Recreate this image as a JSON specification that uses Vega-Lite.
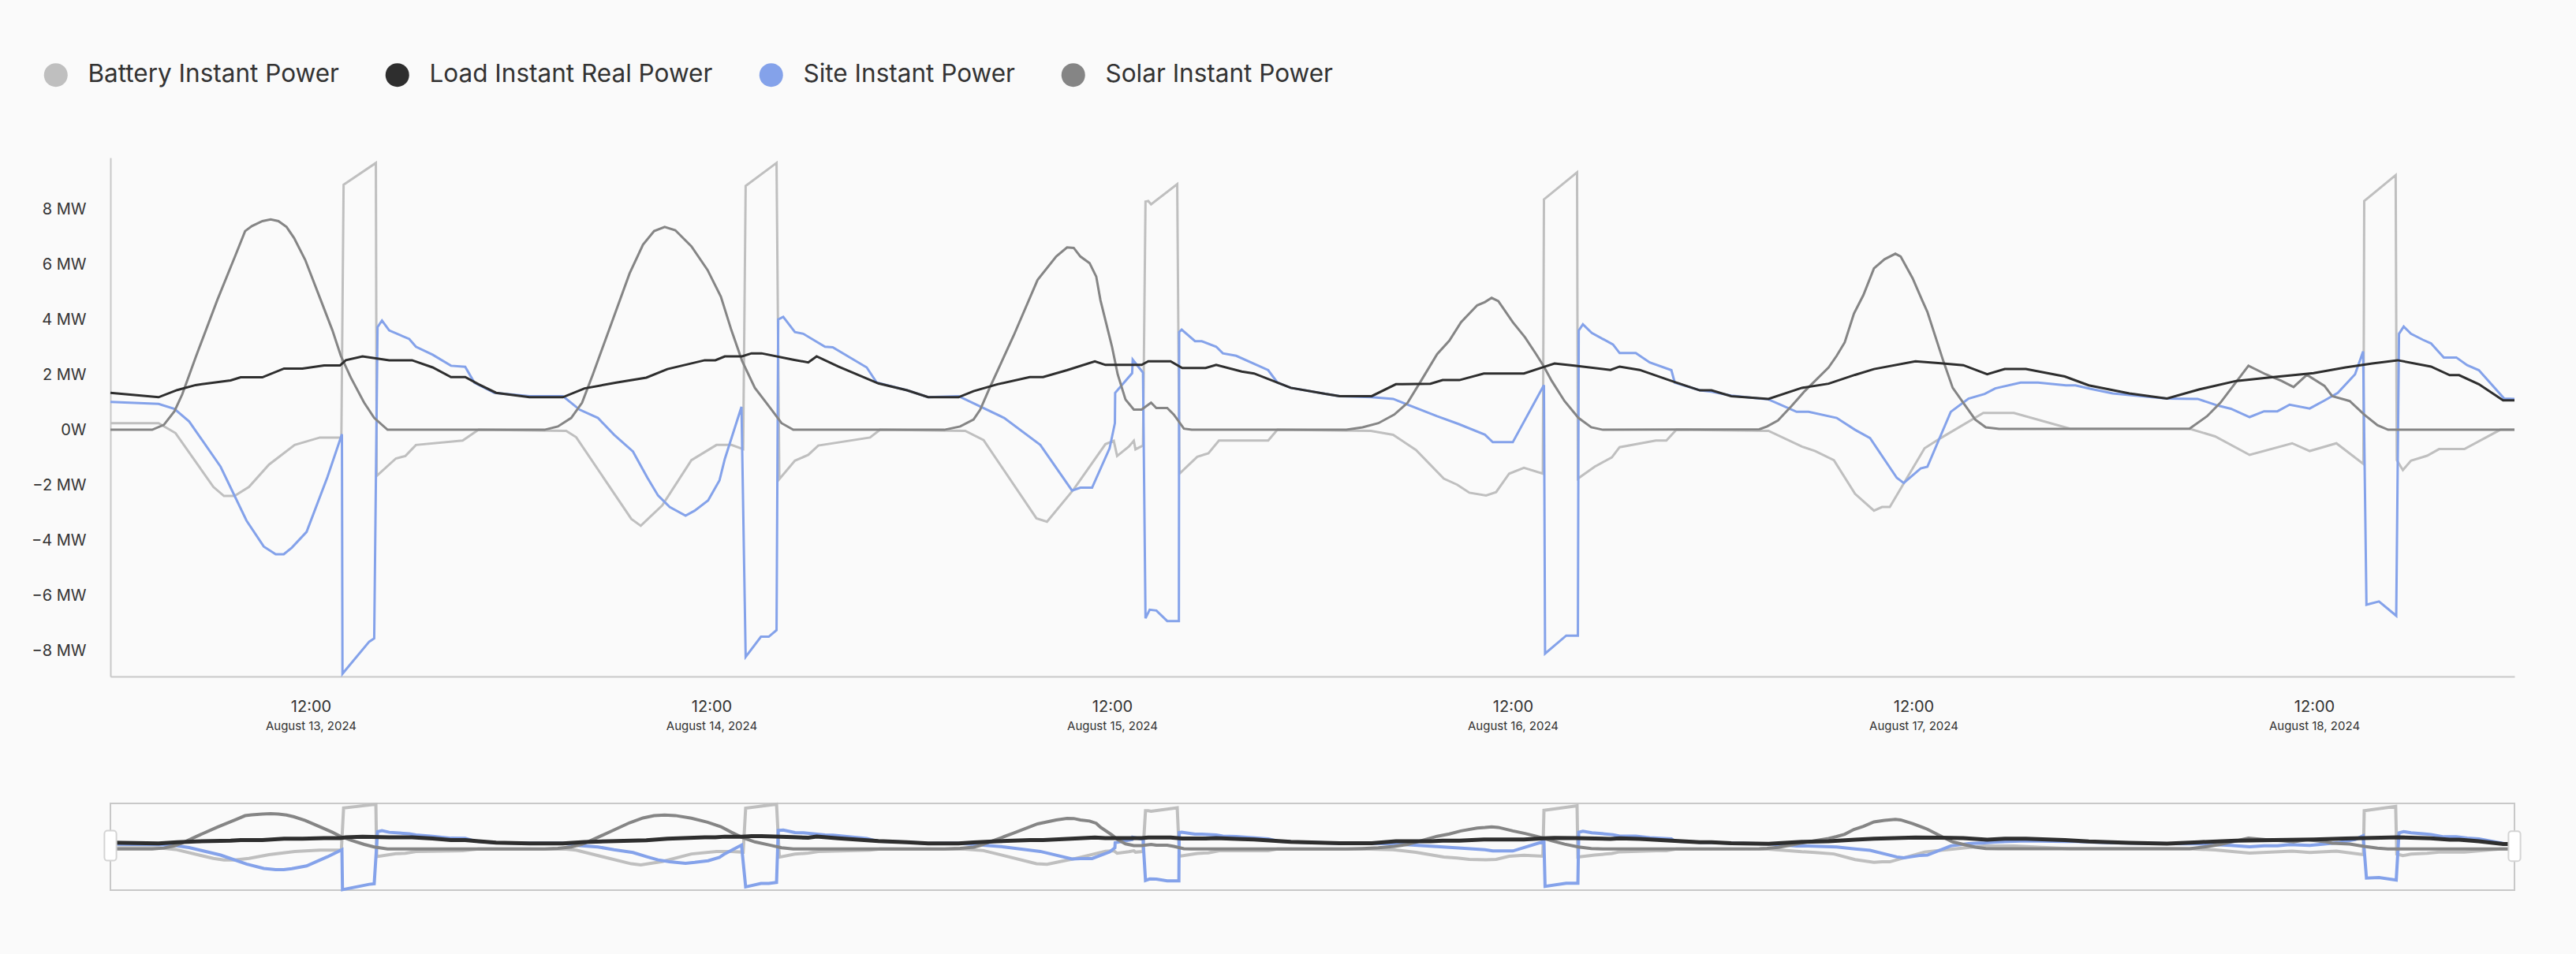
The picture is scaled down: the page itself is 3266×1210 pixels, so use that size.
{
"$schema": "https://vega.github.io/schema/vega-lite/v6.json",
"background": "#fafafa",
"padding": {"left": 39, "top": 79, "right": 77, "bottom": 87},
"spacing": 83,
"config": {
  "view": {"stroke": null},
  "font": "Inter",
  "axis": {"labelFont": "Inter", "labelColor": "#333333", "grid": false, "ticks": false, "tickSize": 0, "domainColor": "#c8c8c8", "domainWidth": 2, "title": null}
},
"datasets": {
"battery": [{"t":"2024-08-13T00:00","v":0.24},{"t":"2024-08-13T02:53","v":0.24},{"t":"2024-08-13T03:54","v":-0.12},{"t":"2024-08-13T06:10","v":-2.07},{"t":"2024-08-13T06:48","v":-2.4},{"t":"2024-08-13T07:26","v":-2.4},{"t":"2024-08-13T08:18","v":-2.07},{"t":"2024-08-13T09:30","v":-1.26},{"t":"2024-08-13T11:02","v":-0.55},{"t":"2024-08-13T12:33","v":-0.28},{"t":"2024-08-13T13:50","v":-0.28},{"t":"2024-08-13T13:58","v":8.88},{"t":"2024-08-13T15:54","v":9.67},{"t":"2024-08-13T15:57","v":-1.67},{"t":"2024-08-13T17:06","v":-1.04},{"t":"2024-08-13T17:40","v":-0.95},{"t":"2024-08-13T18:18","v":-0.55},{"t":"2024-08-13T21:06","v":-0.39},{"t":"2024-08-13T22:03","v":0},
{"t":"2024-08-14T03:18","v":-0.04},{"t":"2024-08-14T03:54","v":-0.27},{"t":"2024-08-14T07:12","v":-3.23},{"t":"2024-08-14T07:46","v":-3.48},{"t":"2024-08-14T09:03","v":-2.74},{"t":"2024-08-14T10:48","v":-1.1},{"t":"2024-08-14T12:18","v":-0.55},{"t":"2024-08-14T13:12","v":-0.55},{"t":"2024-08-14T13:54","v":-0.7},{"t":"2024-08-14T14:03","v":8.84},{"t":"2024-08-14T15:54","v":9.67},{"t":"2024-08-14T16:04","v":-1.79},{"t":"2024-08-14T17:00","v":-1.12},{"t":"2024-08-14T17:48","v":-0.91},{"t":"2024-08-14T18:24","v":-0.57},{"t":"2024-08-14T21:30","v":-0.28},{"t":"2024-08-14T22:06","v":0},
{"t":"2024-08-15T03:12","v":-0.04},{"t":"2024-08-15T04:18","v":-0.37},{"t":"2024-08-15T07:28","v":-3.21},{"t":"2024-08-15T08:06","v":-3.33},{"t":"2024-08-15T09:42","v":-2.16},{"t":"2024-08-15T11:36","v":-0.52},{"t":"2024-08-15T12:06","v":-0.4},{"t":"2024-08-15T12:18","v":-0.95},{"t":"2024-08-15T13:00","v":-0.61},{"t":"2024-08-15T13:18","v":-0.4},{"t":"2024-08-15T13:24","v":-0.71},{"t":"2024-08-15T13:51","v":-0.57},{"t":"2024-08-15T14:00","v":8.27},{"t":"2024-08-15T14:10","v":8.29},{"t":"2024-08-15T14:20","v":8.17},{"t":"2024-08-15T15:54","v":8.9},{"t":"2024-08-15T16:02","v":-1.59},{"t":"2024-08-15T17:06","v":-0.98},{"t":"2024-08-15T17:46","v":-0.85},{"t":"2024-08-15T18:24","v":-0.39},{"t":"2024-08-15T21:21","v":-0.39},{"t":"2024-08-15T21:54","v":0},
{"t":"2024-08-16T03:30","v":-0.04},{"t":"2024-08-16T04:50","v":-0.18},{"t":"2024-08-16T06:12","v":-0.73},{"t":"2024-08-16T07:52","v":-1.77},{"t":"2024-08-16T08:40","v":-1.99},{"t":"2024-08-16T09:24","v":-2.28},{"t":"2024-08-16T10:24","v":-2.38},{"t":"2024-08-16T11:00","v":-2.26},{"t":"2024-08-16T11:47","v":-1.59},{"t":"2024-08-16T12:40","v":-1.38},{"t":"2024-08-16T13:48","v":-1.59},{"t":"2024-08-16T13:52","v":8.35},{"t":"2024-08-16T15:51","v":9.33},{"t":"2024-08-16T15:54","v":-1.77},{"t":"2024-08-16T16:54","v":-1.34},{"t":"2024-08-16T17:56","v":-1.0},{"t":"2024-08-16T18:24","v":-0.63},{"t":"2024-08-16T20:34","v":-0.39},{"t":"2024-08-16T21:12","v":-0.39},{"t":"2024-08-16T21:48","v":0},
{"t":"2024-08-17T03:19","v":-0.04},{"t":"2024-08-17T05:19","v":-0.61},{"t":"2024-08-17T06:07","v":-0.77},{"t":"2024-08-17T07:14","v":-1.1},{"t":"2024-08-17T08:30","v":-2.32},{"t":"2024-08-17T09:38","v":-2.93},{"t":"2024-08-17T10:07","v":-2.8},{"t":"2024-08-17T10:35","v":-2.8},{"t":"2024-08-17T12:40","v":-0.67},{"t":"2024-08-17T13:38","v":-0.3},{"t":"2024-08-17T16:11","v":0.61},{"t":"2024-08-17T18:01","v":0.61},{"t":"2024-08-17T21:23","v":0.04},
{"t":"2024-08-18T04:32","v":0.04},{"t":"2024-08-18T06:04","v":-0.24},{"t":"2024-08-18T08:08","v":-0.91},{"t":"2024-08-18T10:41","v":-0.49},{"t":"2024-08-18T11:44","v":-0.77},{"t":"2024-08-18T13:20","v":-0.49},{"t":"2024-08-18T14:57","v":-1.24},{"t":"2024-08-18T15:00","v":8.29},{"t":"2024-08-18T16:53","v":9.23},{"t":"2024-08-18T16:57","v":-1.1},{"t":"2024-08-18T17:19","v":-1.46},{"t":"2024-08-18T17:48","v":-1.12},{"t":"2024-08-18T18:46","v":-0.94},{"t":"2024-08-18T19:29","v":-0.7},{"t":"2024-08-18T21:00","v":-0.7},{"t":"2024-08-18T23:09","v":0},{"t":"2024-08-19T00:00","v":0}],
"load": [{"t":"2024-08-13T00:00","v":1.34},{"t":"2024-08-13T02:53","v":1.18},{"t":"2024-08-13T04:00","v":1.44},{"t":"2024-08-13T05:06","v":1.62},{"t":"2024-08-13T07:12","v":1.79},{"t":"2024-08-13T07:48","v":1.9},{"t":"2024-08-13T09:06","v":1.9},{"t":"2024-08-13T10:24","v":2.22},{"t":"2024-08-13T11:30","v":2.22},{"t":"2024-08-13T12:48","v":2.33},{"t":"2024-08-13T13:45","v":2.33},{"t":"2024-08-13T14:06","v":2.52},{"t":"2024-08-13T15:06","v":2.66},{"t":"2024-08-13T16:42","v":2.52},{"t":"2024-08-13T18:04","v":2.52},{"t":"2024-08-13T19:18","v":2.26},{"t":"2024-08-13T20:24","v":1.91},{"t":"2024-08-13T21:15","v":1.91},{"t":"2024-08-13T22:03","v":1.65},{"t":"2024-08-13T23:06","v":1.34},
{"t":"2024-08-14T01:06","v":1.18},{"t":"2024-08-14T03:06","v":1.18},{"t":"2024-08-14T04:24","v":1.5},{"t":"2024-08-14T06:18","v":1.71},{"t":"2024-08-14T08:06","v":1.89},{"t":"2024-08-14T09:22","v":2.2},{"t":"2024-08-14T11:36","v":2.52},{"t":"2024-08-14T12:14","v":2.52},{"t":"2024-08-14T12:48","v":2.66},{"t":"2024-08-14T13:50","v":2.66},{"t":"2024-08-14T14:24","v":2.77},{"t":"2024-08-14T15:00","v":2.77},{"t":"2024-08-14T16:54","v":2.54},{"t":"2024-08-14T17:48","v":2.44},{"t":"2024-08-14T18:18","v":2.66},{"t":"2024-08-14T19:36","v":2.29},{"t":"2024-08-14T22:00","v":1.68},{"t":"2024-08-14T23:43","v":1.43},
{"t":"2024-08-15T00:59","v":1.18},{"t":"2024-08-15T02:48","v":1.18},{"t":"2024-08-15T03:42","v":1.4},{"t":"2024-08-15T05:08","v":1.65},{"t":"2024-08-15T07:04","v":1.91},{"t":"2024-08-15T07:52","v":1.91},{"t":"2024-08-15T09:18","v":2.16},{"t":"2024-08-15T10:58","v":2.48},{"t":"2024-08-15T11:36","v":2.35},{"t":"2024-08-15T13:46","v":2.35},{"t":"2024-08-15T14:10","v":2.48},{"t":"2024-08-15T15:30","v":2.48},{"t":"2024-08-15T16:12","v":2.24},{"t":"2024-08-15T17:36","v":2.24},{"t":"2024-08-15T18:14","v":2.35},{"t":"2024-08-15T19:46","v":2.11},{"t":"2024-08-15T20:30","v":2.04},{"t":"2024-08-15T22:42","v":1.52},
{"t":"2024-08-16T00:46","v":1.3},{"t":"2024-08-16T01:38","v":1.22},{"t":"2024-08-16T03:33","v":1.22},{"t":"2024-08-16T05:00","v":1.65},{"t":"2024-08-16T07:04","v":1.67},{"t":"2024-08-16T07:48","v":1.8},{"t":"2024-08-16T08:48","v":1.8},{"t":"2024-08-16T10:16","v":2.04},{"t":"2024-08-16T12:40","v":2.04},{"t":"2024-08-16T13:52","v":2.28},{"t":"2024-08-16T14:30","v":2.4},{"t":"2024-08-16T15:48","v":2.32},{"t":"2024-08-16T17:51","v":2.17},{"t":"2024-08-16T18:24","v":2.29},{"t":"2024-08-16T19:36","v":2.17},{"t":"2024-08-16T21:30","v":1.77},{"t":"2024-08-16T23:12","v":1.43},{"t":"2024-08-16T23:54","v":1.43},
{"t":"2024-08-17T01:05","v":1.22},{"t":"2024-08-17T03:19","v":1.12},{"t":"2024-08-17T05:19","v":1.52},{"t":"2024-08-17T06:55","v":1.67},{"t":"2024-08-17T08:30","v":1.99},{"t":"2024-08-17T09:38","v":2.2},{"t":"2024-08-17T12:07","v":2.48},{"t":"2024-08-17T13:38","v":2.41},{"t":"2024-08-17T14:59","v":2.34},{"t":"2024-08-17T16:25","v":2.01},{"t":"2024-08-17T17:28","v":2.2},{"t":"2024-08-17T18:44","v":2.2},{"t":"2024-08-17T21:04","v":1.93},{"t":"2024-08-17T22:30","v":1.61},
{"t":"2024-08-18T00:56","v":1.32},{"t":"2024-08-18T03:11","v":1.13},{"t":"2024-08-18T05:06","v":1.46},{"t":"2024-08-18T07:20","v":1.77},{"t":"2024-08-18T09:34","v":1.91},{"t":"2024-08-18T11:58","v":2.05},{"t":"2024-08-18T13:53","v":2.26},{"t":"2024-08-18T15:29","v":2.4},{"t":"2024-08-18T17:00","v":2.52},{"t":"2024-08-18T19:00","v":2.29},{"t":"2024-08-18T20:07","v":1.98},{"t":"2024-08-18T20:41","v":1.98},{"t":"2024-08-18T21:52","v":1.65},{"t":"2024-08-18T23:19","v":1.07},{"t":"2024-08-19T00:00","v":1.07}],
"site": [{"t":"2024-08-13T00:00","v":1.01},{"t":"2024-08-13T02:53","v":0.94},{"t":"2024-08-13T03:50","v":0.76},{"t":"2024-08-13T04:43","v":0.3},{"t":"2024-08-13T06:36","v":-1.34},{"t":"2024-08-13T08:09","v":-3.29},{"t":"2024-08-13T09:11","v":-4.23},{"t":"2024-08-13T09:54","v":-4.51},{"t":"2024-08-13T10:23","v":-4.51},{"t":"2024-08-13T10:52","v":-4.27},{"t":"2024-08-13T11:45","v":-3.7},{"t":"2024-08-13T13:00","v":-1.71},{"t":"2024-08-13T13:52","v":-0.16},{"t":"2024-08-13T13:54","v":-8.84},{"t":"2024-08-13T15:30","v":-7.68},{"t":"2024-08-13T15:48","v":-7.56},{"t":"2024-08-13T16:00","v":3.72},{"t":"2024-08-13T16:16","v":3.96},{"t":"2024-08-13T16:42","v":3.6},{"t":"2024-08-13T17:54","v":3.29},{"t":"2024-08-13T18:18","v":3.01},{"t":"2024-08-13T19:18","v":2.72},{"t":"2024-08-13T20:24","v":2.32},{"t":"2024-08-13T21:15","v":2.28},{"t":"2024-08-13T21:48","v":1.71},{"t":"2024-08-13T23:00","v":1.34},
{"t":"2024-08-14T01:06","v":1.22},{"t":"2024-08-14T03:06","v":1.22},{"t":"2024-08-14T04:06","v":0.73},{"t":"2024-08-14T05:12","v":0.43},{"t":"2024-08-14T06:10","v":-0.18},{"t":"2024-08-14T07:18","v":-0.79},{"t":"2024-08-14T08:10","v":-1.74},{"t":"2024-08-14T08:48","v":-2.38},{"t":"2024-08-14T09:30","v":-2.8},{"t":"2024-08-14T10:27","v":-3.11},{"t":"2024-08-14T11:00","v":-2.93},{"t":"2024-08-14T11:48","v":-2.56},{"t":"2024-08-14T12:29","v":-1.83},{"t":"2024-08-14T12:48","v":-1.06},{"t":"2024-08-14T13:48","v":0.83},{"t":"2024-08-14T14:03","v":-8.23},{"t":"2024-08-14T14:58","v":-7.5},{"t":"2024-08-14T15:26","v":-7.5},{"t":"2024-08-14T15:54","v":-7.26},{"t":"2024-08-14T16:00","v":4.0},{"t":"2024-08-14T16:18","v":4.09},{"t":"2024-08-14T17:00","v":3.54},{"t":"2024-08-14T17:30","v":3.48},{"t":"2024-08-14T18:48","v":3.01},{"t":"2024-08-14T19:16","v":2.99},{"t":"2024-08-14T21:18","v":2.26},{"t":"2024-08-14T21:54","v":1.71},{"t":"2024-08-14T23:43","v":1.43},
{"t":"2024-08-15T00:59","v":1.18},{"t":"2024-08-15T02:48","v":1.22},{"t":"2024-08-15T05:32","v":0.43},{"t":"2024-08-15T07:42","v":-0.55},{"t":"2024-08-15T09:36","v":-2.2},{"t":"2024-08-15T10:06","v":-2.1},{"t":"2024-08-15T10:48","v":-2.1},{"t":"2024-08-15T11:51","v":-0.67},{"t":"2024-08-15T12:10","v":0.24},{"t":"2024-08-15T12:11","v":1.34},{"t":"2024-08-15T13:12","v":2.05},{"t":"2024-08-15T13:14","v":2.54},{"t":"2024-08-15T13:51","v":2.07},{"t":"2024-08-15T14:00","v":-6.83},{"t":"2024-08-15T14:15","v":-6.52},{"t":"2024-08-15T14:39","v":-6.55},{"t":"2024-08-15T15:18","v":-6.93},{"t":"2024-08-15T16:00","v":-6.93},{"t":"2024-08-15T16:01","v":3.54},{"t":"2024-08-15T16:10","v":3.63},{"t":"2024-08-15T16:58","v":3.21},{"t":"2024-08-15T17:22","v":3.21},{"t":"2024-08-15T18:14","v":3.01},{"t":"2024-08-15T18:38","v":2.77},{"t":"2024-08-15T19:26","v":2.68},{"t":"2024-08-15T21:21","v":2.16},{"t":"2024-08-15T21:54","v":1.71},{"t":"2024-08-15T22:42","v":1.52},
{"t":"2024-08-16T00:46","v":1.3},{"t":"2024-08-16T01:38","v":1.22},{"t":"2024-08-16T03:33","v":1.18},{"t":"2024-08-16T04:50","v":1.12},{"t":"2024-08-16T07:28","v":0.49},{"t":"2024-08-16T08:45","v":0.21},{"t":"2024-08-16T10:20","v":-0.18},{"t":"2024-08-16T10:48","v":-0.45},{"t":"2024-08-16T12:00","v":-0.45},{"t":"2024-08-16T13:52","v":1.62},{"t":"2024-08-16T13:56","v":-8.11},{"t":"2024-08-16T15:12","v":-7.46},{"t":"2024-08-16T15:54","v":-7.46},{"t":"2024-08-16T15:57","v":3.6},{"t":"2024-08-16T16:12","v":3.82},{"t":"2024-08-16T16:44","v":3.51},{"t":"2024-08-16T18:00","v":3.09},{"t":"2024-08-16T18:24","v":2.78},{"t":"2024-08-16T19:22","v":2.78},{"t":"2024-08-16T20:12","v":2.44},{"t":"2024-08-16T21:30","v":2.16},{"t":"2024-08-16T21:42","v":1.71},{"t":"2024-08-16T23:12","v":1.43},{"t":"2024-08-16T23:54","v":1.38},
{"t":"2024-08-17T01:05","v":1.24},{"t":"2024-08-17T03:19","v":1.1},{"t":"2024-08-17T05:00","v":0.65},{"t":"2024-08-17T05:43","v":0.65},{"t":"2024-08-17T07:24","v":0.43},{"t":"2024-08-17T08:30","v":0},{"t":"2024-08-17T09:24","v":-0.3},{"t":"2024-08-17T11:00","v":-1.74},{"t":"2024-08-17T11:25","v":-1.93},{"t":"2024-08-17T12:26","v":-1.4},{"t":"2024-08-17T12:50","v":-1.34},{"t":"2024-08-17T14:14","v":0.65},{"t":"2024-08-17T15:18","v":1.13},{"t":"2024-08-17T16:16","v":1.3},{"t":"2024-08-17T16:54","v":1.5},{"t":"2024-08-17T18:25","v":1.71},{"t":"2024-08-17T19:28","v":1.71},{"t":"2024-08-17T21:08","v":1.61},{"t":"2024-08-17T21:42","v":1.61},{"t":"2024-08-17T22:34","v":1.49},{"t":"2024-08-17T23:56","v":1.32},
{"t":"2024-08-18T00:56","v":1.26},{"t":"2024-08-18T03:11","v":1.13},{"t":"2024-08-18T05:01","v":1.12},{"t":"2024-08-18T06:13","v":0.88},{"t":"2024-08-18T07:01","v":0.76},{"t":"2024-08-18T08:08","v":0.46},{"t":"2024-08-18T09:00","v":0.67},{"t":"2024-08-18T09:48","v":0.67},{"t":"2024-08-18T10:32","v":0.91},{"t":"2024-08-18T11:44","v":0.77},{"t":"2024-08-18T12:37","v":1.06},{"t":"2024-08-18T13:25","v":1.34},{"t":"2024-08-18T14:27","v":2.01},{"t":"2024-08-18T14:56","v":2.84},{"t":"2024-08-18T15:08","v":-6.34},{"t":"2024-08-18T15:53","v":-6.22},{"t":"2024-08-18T16:55","v":-6.74},{"t":"2024-08-18T17:05","v":3.48},{"t":"2024-08-18T17:22","v":3.74},{"t":"2024-08-18T17:48","v":3.48},{"t":"2024-08-18T18:31","v":3.26},{"t":"2024-08-18T19:00","v":3.13},{"t":"2024-08-18T19:46","v":2.62},{"t":"2024-08-18T20:31","v":2.62},{"t":"2024-08-18T21:10","v":2.34},{"t":"2024-08-18T21:52","v":2.16},{"t":"2024-08-18T23:23","v":1.13},{"t":"2024-08-19T00:00","v":1.12}],
"solar": [{"t":"2024-08-13T00:00","v":0},{"t":"2024-08-13T02:30","v":0},{"t":"2024-08-13T03:12","v":0.18},{"t":"2024-08-13T03:50","v":0.67},{"t":"2024-08-13T04:18","v":1.28},{"t":"2024-08-13T05:06","v":2.62},{"t":"2024-08-13T06:24","v":4.7},{"t":"2024-08-13T07:30","v":6.34},{"t":"2024-08-13T08:04","v":7.2},{"t":"2024-08-13T08:28","v":7.38},{"t":"2024-08-13T09:06","v":7.56},{"t":"2024-08-13T09:36","v":7.62},{"t":"2024-08-13T10:04","v":7.56},{"t":"2024-08-13T10:33","v":7.35},{"t":"2024-08-13T11:00","v":6.95},{"t":"2024-08-13T11:40","v":6.16},{"t":"2024-08-13T12:36","v":4.7},{"t":"2024-08-13T13:18","v":3.6},{"t":"2024-08-13T13:48","v":2.68},{"t":"2024-08-13T14:24","v":1.89},{"t":"2024-08-13T15:12","v":0.98},{"t":"2024-08-13T15:48","v":0.43},{"t":"2024-08-13T16:36","v":0},
{"t":"2024-08-14T02:00","v":0},{"t":"2024-08-14T02:48","v":0.12},{"t":"2024-08-14T03:36","v":0.43},{"t":"2024-08-14T04:15","v":0.98},{"t":"2024-08-14T04:54","v":2.01},{"t":"2024-08-14T06:00","v":3.84},{"t":"2024-08-14T07:06","v":5.67},{"t":"2024-08-14T07:54","v":6.71},{"t":"2024-08-14T08:34","v":7.2},{"t":"2024-08-14T09:12","v":7.35},{"t":"2024-08-14T09:50","v":7.23},{"t":"2024-08-14T10:48","v":6.65},{"t":"2024-08-14T11:46","v":5.79},{"t":"2024-08-14T12:34","v":4.82},{"t":"2024-08-14T13:12","v":3.6},{"t":"2024-08-14T13:50","v":2.5},{"t":"2024-08-14T14:36","v":1.52},{"t":"2024-08-14T15:36","v":0.73},{"t":"2024-08-14T16:12","v":0.24},{"t":"2024-08-14T16:54","v":0},
{"t":"2024-08-15T01:57","v":0},{"t":"2024-08-15T02:54","v":0.12},{"t":"2024-08-15T03:42","v":0.37},{"t":"2024-08-15T04:06","v":0.73},{"t":"2024-08-15T04:40","v":1.52},{"t":"2024-08-15T06:06","v":3.41},{"t":"2024-08-15T07:32","v":5.43},{"t":"2024-08-15T08:39","v":6.28},{"t":"2024-08-15T09:18","v":6.61},{"t":"2024-08-15T09:42","v":6.59},{"t":"2024-08-15T10:06","v":6.28},{"t":"2024-08-15T10:39","v":6.04},{"t":"2024-08-15T11:03","v":5.55},{"t":"2024-08-15T11:18","v":4.7},{"t":"2024-08-15T12:00","v":2.99},{"t":"2024-08-15T12:20","v":2.01},{"t":"2024-08-15T12:48","v":1.1},{"t":"2024-08-15T13:18","v":0.73},{"t":"2024-08-15T13:46","v":0.73},{"t":"2024-08-15T14:20","v":0.98},{"t":"2024-08-15T14:39","v":0.79},{"t":"2024-08-15T15:18","v":0.79},{"t":"2024-08-15T15:42","v":0.55},{"t":"2024-08-15T16:18","v":0.04},{"t":"2024-08-15T16:46","v":0},
{"t":"2024-08-16T02:02","v":0},{"t":"2024-08-16T03:00","v":0.09},{"t":"2024-08-16T03:57","v":0.24},{"t":"2024-08-16T04:54","v":0.55},{"t":"2024-08-16T05:42","v":0.98},{"t":"2024-08-16T06:30","v":1.77},{"t":"2024-08-16T07:28","v":2.74},{"t":"2024-08-16T08:12","v":3.23},{"t":"2024-08-16T08:54","v":3.9},{"t":"2024-08-16T09:52","v":4.51},{"t":"2024-08-16T10:20","v":4.63},{"t":"2024-08-16T10:44","v":4.78},{"t":"2024-08-16T11:08","v":4.66},{"t":"2024-08-16T12:00","v":3.9},{"t":"2024-08-16T12:44","v":3.35},{"t":"2024-08-16T13:24","v":2.74},{"t":"2024-08-16T13:52","v":2.29},{"t":"2024-08-16T14:20","v":1.77},{"t":"2024-08-16T15:06","v":1.04},{"t":"2024-08-16T15:56","v":0.43},{"t":"2024-08-16T16:42","v":0.09},{"t":"2024-08-16T17:24","v":0},
{"t":"2024-08-17T02:46","v":0.02},{"t":"2024-08-17T03:14","v":0.12},{"t":"2024-08-17T03:53","v":0.34},{"t":"2024-08-17T04:41","v":0.85},{"t":"2024-08-17T05:29","v":1.4},{"t":"2024-08-17T06:55","v":2.26},{"t":"2024-08-17T07:24","v":2.68},{"t":"2024-08-17T07:53","v":3.17},{"t":"2024-08-17T08:26","v":4.21},{"t":"2024-08-17T09:00","v":4.88},{"t":"2024-08-17T09:38","v":5.85},{"t":"2024-08-17T10:16","v":6.18},{"t":"2024-08-17T10:55","v":6.38},{"t":"2024-08-17T11:14","v":6.28},{"t":"2024-08-17T11:57","v":5.49},{"t":"2024-08-17T12:31","v":4.7},{"t":"2024-08-17T12:50","v":4.27},{"t":"2024-08-17T13:47","v":2.5},{"t":"2024-08-17T14:21","v":1.52},{"t":"2024-08-17T14:59","v":0.98},{"t":"2024-08-17T15:42","v":0.37},{"t":"2024-08-17T16:20","v":0.09},{"t":"2024-08-17T17:08","v":0.03},
{"t":"2024-08-18T04:32","v":0.04},{"t":"2024-08-18T05:35","v":0.49},{"t":"2024-08-18T06:23","v":0.98},{"t":"2024-08-18T08:04","v":2.32},{"t":"2024-08-18T09:06","v":2.01},{"t":"2024-08-18T10:03","v":1.77},{"t":"2024-08-18T10:46","v":1.55},{"t":"2024-08-18T11:34","v":1.99},{"t":"2024-08-18T12:37","v":1.59},{"t":"2024-08-18T13:05","v":1.22},{"t":"2024-08-18T14:08","v":1.04},{"t":"2024-08-18T15:00","v":0.55},{"t":"2024-08-18T15:48","v":0.16},{"t":"2024-08-18T16:26","v":0},{"t":"2024-08-19T00:00","v":0}],
"handles": [{"t":"2024-08-13T00:00","v":0.7},{"t":"2024-08-19T00:00","v":0.6}]
},
"vconcat": [
{
  "width": 3048,
  "height": 658,
  "resolve": {"axis": {"x": "independent"}},
  "layer": [
    {"data": {"name": "battery"}, "mark": {"type": "line", "strokeWidth": 3},
     "encoding": {
       "x": {"field": "t", "type": "temporal",
             "scale": {"domain": [{"year": 2024, "month": 8, "date": 13}, {"year": 2024, "month": 8, "date": 19}]},
             "axis": {"orient": "bottom", "values": [{"year": 2024, "month": 8, "date": 13, "hours": 12}, {"year": 2024, "month": 8, "date": 14, "hours": 12}, {"year": 2024, "month": 8, "date": 15, "hours": 12}, {"year": 2024, "month": 8, "date": 16, "hours": 12}, {"year": 2024, "month": 8, "date": 17, "hours": 12}, {"year": 2024, "month": 8, "date": 18, "hours": 12}], "format": "%H:%M", "labelFontSize": 20, "labelPadding": 28, "domain": true}},
       "y": {"field": "v", "type": "quantitative",
             "scale": {"domain": [-8.94, 9.86], "nice": false, "zero": false},
             "axis": {"values": [-8, -6, -4, -2, 0, 2, 4, 6, 8], "labelExpr": "datum.value == 0 ? '0W' : (datum.value < 0 ? '−' + (-datum.value) : datum.value) + ' MW'", "labelFontSize": 20, "labelPadding": 31}},
       "color": {"datum": "Battery Instant Power",
                 "scale": {"domain": ["Battery Instant Power", "Load Instant Real Power", "Site Instant Power", "Solar Instant Power"], "range": ["#bfbfbf", "#2e2e2e", "#84a2ea", "#858585"]},
                 "legend": {"title": null, "orient": "none", "direction": "horizontal", "legendX": -85, "legendY": -121, "padding": 0,
                            "symbolType": "circle", "symbolSize": 900, "symbolStrokeWidth": 0, "symbolOpacity": 1,
                            "labelFont": "Inter", "labelFontSize": 31.5, "labelColor": "#333333", "labelLimit": 0, "labelOffset": 25, "columnPadding": 58,
                            "encode": {"symbols": {"update": {"fill": {"scale": "color", "field": "value"}, "fillOpacity": {"value": 1}, "strokeWidth": {"value": 0}}}}}}
     }},
    {"data": {"name": "site"}, "mark": {"type": "line", "strokeWidth": 3},
     "encoding": {
       "x": {"field": "t", "type": "temporal",
             "axis": {"orient": "bottom", "values": [{"year": 2024, "month": 8, "date": 13, "hours": 12}, {"year": 2024, "month": 8, "date": 14, "hours": 12}, {"year": 2024, "month": 8, "date": 15, "hours": 12}, {"year": 2024, "month": 8, "date": 16, "hours": 12}, {"year": 2024, "month": 8, "date": 17, "hours": 12}, {"year": 2024, "month": 8, "date": 18, "hours": 12}], "format": "%B %-d, %Y", "labelFontSize": 15, "labelPadding": 55, "domain": false}},
       "y": {"field": "v", "type": "quantitative"},
       "color": {"datum": "Site Instant Power"}
     }},
    {"data": {"name": "solar"}, "mark": {"type": "line", "strokeWidth": 3},
     "encoding": {
       "x": {"field": "t", "type": "temporal", "axis": null},
       "y": {"field": "v", "type": "quantitative"},
       "color": {"datum": "Solar Instant Power"}
     }},
    {"data": {"name": "load"}, "mark": {"type": "line", "strokeWidth": 3},
     "encoding": {
       "x": {"field": "t", "type": "temporal", "axis": null},
       "y": {"field": "v", "type": "quantitative"},
       "color": {"datum": "Load Instant Real Power"}
     }}
  ]
},
{
  "width": 3048,
  "height": 110,
  "view": {"stroke": "#c8c8c8", "strokeWidth": 2},
  "layer": [
    {"data": {"name": "battery"}, "mark": {"type": "line", "strokeWidth": 4},
     "encoding": {
       "x": {"field": "t", "type": "temporal", "axis": null, "scale": {"domain": [{"year": 2024, "month": 8, "date": 13}, {"year": 2024, "month": 8, "date": 19}]}},
       "y": {"field": "v", "type": "quantitative", "axis": null, "scale": {"domain": [-8.94, 9.86], "nice": false, "zero": false}},
       "color": {"datum": "Battery Instant Power"}
     }},
    {"data": {"name": "site"}, "mark": {"type": "line", "strokeWidth": 4},
     "encoding": {
       "x": {"field": "t", "type": "temporal", "axis": null},
       "y": {"field": "v", "type": "quantitative", "axis": null},
       "color": {"datum": "Site Instant Power"}
     }},
    {"data": {"name": "solar"}, "mark": {"type": "line", "strokeWidth": 4},
     "encoding": {
       "x": {"field": "t", "type": "temporal", "axis": null},
       "y": {"field": "v", "type": "quantitative", "axis": null},
       "color": {"datum": "Solar Instant Power"}
     }},
    {"data": {"name": "load"}, "mark": {"type": "line", "strokeWidth": 5},
     "encoding": {
       "x": {"field": "t", "type": "temporal", "axis": null},
       "y": {"field": "v", "type": "quantitative", "axis": null},
       "color": {"datum": "Load Instant Real Power"}
     }},
    {"data": {"name": "handles"},
     "mark": {"type": "point", "shape": "M-0.2,-1H0.2A0.2,0.2 0 0 1 0.4,-0.8V0.8A0.2,0.2 0 0 1 0.2,1H-0.2A0.2,0.2 0 0 1 -0.4,0.8V-0.8A0.2,0.2 0 0 1 -0.2,-1Z", "size": 1444, "filled": true, "fill": "#ffffff", "stroke": "#d4d4d4", "strokeWidth": 2, "opacity": 1},
     "encoding": {
       "x": {"field": "t", "type": "temporal", "axis": null},
       "y": {"field": "v", "type": "quantitative", "axis": null}
     }}
  ]
}
]
}
